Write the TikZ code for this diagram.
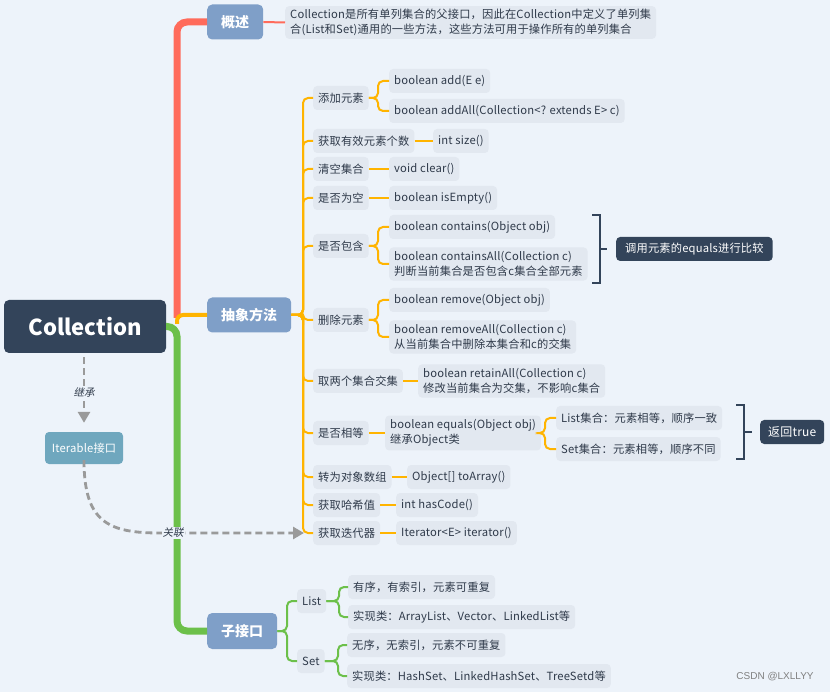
\documentclass[tikz,border=0pt]{standalone}
\usepackage{fontspec}
\setmainfont[LetterSpace=1.5]{Noto Sans CJK SC}
\newfontfamily\titlefont{Noto Sans CJK SC}
\newfontfamily\slfont[FakeSlant=0.2]{Noto Sans CJK SC}
\newfontfamily\wmfont{Liberation Sans}
\usetikzlibrary{arrows.meta}
\definecolor{bg}{HTML}{EDF3FA}
\definecolor{leaf}{HTML}{E2E8F0}
\definecolor{txt}{HTML}{2F3A4A}
\definecolor{dark}{HTML}{33445A}
\definecolor{bluen}{HTML}{7F9FC8}
\definecolor{tealn}{HTML}{6FA7BE}
\definecolor{redl}{HTML}{FF6B5B}
\definecolor{orl}{HTML}{FFB400}
\definecolor{grl}{HTML}{6CC04A}
\definecolor{dashc}{HTML}{9A9A9A}
\tikzset{
  lf/.style={fill=leaf, rounded corners=4pt, inner xsep=5pt, inner ysep=4pt, minimum height=24pt,
    anchor=west, text=txt, font=\fontsize{11.25}{15}\selectfont, align=left},
  lvone/.style={fill=bluen, rounded corners=5pt, inner xsep=14pt, inner ysep=0pt, minimum height=35pt,
    anchor=west, text=white, font=\titlefont\fontsize{14}{16}\selectfont\bfseries},
  darkbox/.style={fill=dark, rounded corners=4pt, inner xsep=9pt, inner ysep=0pt, minimum height=24pt,
    anchor=west, text=white, font=\fontsize{11.25}{15}\selectfont},
  ocon/.style={draw=orl, line width=2pt, rounded corners=5pt},
  gcon/.style={draw=grl, line width=2pt, rounded corners=5pt},
  brk/.style={draw=dark, line width=1.6pt},
  dashline/.style={draw=dashc, line width=2.8pt, dash pattern=on 7pt off 4pt,
    -{Triangle[length=11pt,width=12pt]}},
  dlabel/.style={fill=bg, inner sep=1pt, text=txt, font=\slfont\fontsize{10.5}{12}\selectfont},
}
\begin{document}
\begin{tikzpicture}[x=1pt,y=-1pt]
\fill[bg] (0,0) rectangle (830,692);
\useasboundingbox (0,0) rectangle (830,692);

% root and level-1 nodes
\node[fill=dark, rounded corners=5pt, minimum width=162pt, minimum height=53pt, text=white,
  font=\titlefont\fontsize{22}{24}\selectfont\bfseries] (root) at (85,326.5) {Collection};
\node[lvone] (gs) at (207,22) {概述};
\node[lvone] (abs) at (207,315) {抽象方法};
\node[lvone, minimum height=36pt] (zjk) at (207,631) {子接口};

% main branches
\draw[redl, line width=7pt, rounded corners=10pt] (177,318) -- (177,22) -- (gs.west);
\draw[orl, line width=4pt, rounded corners=6pt] (177,324) -- (177,315) -- (abs.west);
\draw[grl, line width=7pt, rounded corners=10pt] (root.east) -- (177,326.5) -- (177,631) -- (zjk.west);

% overview
\node[lf, inner ysep=3pt] (desc) at (285,22.5) {Collection是所有单列集合的父接口，因此在Collection中定义了单列集\\合(List和Set)通用的一些方法，这些方法可用于操作所有的单列集合};
\draw[redl, line width=2pt] (gs.east) -- (desc.west);

% level 2 under abstract methods
\node[lf] (cadd) at (313,98) {添加元素};
\node[lf] (csize) at (313,141) {获取有效元素个数};
\node[lf] (cclear) at (313,169) {清空集合};
\node[lf] (cempty) at (313,198) {是否为空};
\node[lf] (ccont) at (313,246) {是否包含};
\node[lf] (crem) at (313,320) {删除元素};
\node[lf] (cret) at (313,381) {取两个集合交集};
\node[lf] (ceq) at (313,433) {是否相等};
\node[lf] (carr) at (313,477) {转为对象数组};
\node[lf] (chash) at (313,505) {获取哈希值};
\node[lf] (cit) at (313,533) {获取迭代器};
\foreach \n in {cadd,csize,cclear,cempty,ccont,crem,cret,ceq,carr,chash,cit}
  \draw[ocon] (abs.east) -- (303,315) |- (\n.west);

% level 3
\node[lf] (add1) at (389,81) {boolean add(E e)};
\node[lf] (add2) at (389,111) {boolean addAll(Collection<? extends E> c)};
\node[lf] (size1) at (433,141) {int size()};
\node[lf] (clear1) at (389,169) {void clear()};
\node[lf] (empty1) at (389,198) {boolean isEmpty()};
\node[lf] (cont1) at (389,227) {boolean contains(Object obj)};
\node[lf] (cont2) at (389,264) {boolean containsAll(Collection c)\\判断当前集合是否包含c集合全部元素};
\node[lf] (rem1) at (389,300) {boolean remove(Object obj)};
\node[lf] (rem2) at (389,337) {boolean removeAll(Collection c)\\从当前集合中删除本集合和c的交集};
\node[lf] (ret1) at (418,381) {boolean retainAll(Collection c)\\修改当前集合为交集，不影响c集合};
\node[lf] (eq1) at (385,433) {boolean equals(Object obj)\\继承Object类};
\node[lf] (arr1) at (407,477) {Object[] toArray()};
\node[lf] (hash1) at (396,505) {int hasCode()};
\node[lf] (it1) at (396,533) {Iterator<E> iterator()};

\draw[ocon] (cadd.east) -- (378,98) |- (add1.west);
\draw[ocon] (cadd.east) -- (378,98) |- (add2.west);
\draw[ocon] (csize.east) -- (size1.west);
\draw[ocon] (cclear.east) -- (clear1.west);
\draw[ocon] (cempty.east) -- (empty1.west);
\draw[ocon] (ccont.east) -- (378,246) |- (cont1.west);
\draw[ocon] (ccont.east) -- (378,246) |- (cont2.west);
\draw[ocon] (crem.east) -- (378,320) |- (rem1.west);
\draw[ocon] (crem.east) -- (378,320) |- (rem2.west);
\draw[ocon] (cret.east) -- (ret1.west);
\draw[ocon] (ceq.east) -- (eq1.west);
\draw[ocon] (carr.east) -- (arr1.west);
\draw[ocon] (chash.east) -- (hash1.west);
\draw[ocon] (cit.east) -- (it1.west);

% level 4 under equals
\node[lf] (eqa) at (556,418) {List集合：元素相等，顺序一致};
\node[lf] (eqb) at (556,449) {Set集合：元素相等，顺序不同};
\draw[ocon] (eq1.east) -- (545,433) |- (eqa.west);
\draw[ocon] (eq1.east) -- (545,433) |- (eqb.west);

% brackets and summaries
\coordinate (b1t) at (592,215);
\coordinate (b1b) at (592,283);
\node[darkbox] (cmp) at (616,249) {调用元素的equals进行比较};
\draw[brk] (b1t) -- (600,215) -- (600,283) -- (b1b);
\draw[brk] (600,249) -- ([xshift=-9pt]cmp.west);

\coordinate (b2t) at (736,405);
\coordinate (b2b) at (736,459);
\node[darkbox, font=\fontsize{12}{15}\selectfont, inner xsep=8pt] (rt) at (760,432) {返回true};
\draw[brk] (b2t) -- (744,405) -- (744,459) -- (b2b);
\draw[brk] (744,432) -- ([xshift=-8pt]rt.west);

% sub-interfaces
\node[lf] (list) at (297,601) {List};
\node[lf] (set) at (297,661) {Set};
\draw[gcon] (zjk.east) -- (287,631) |- (list.west);
\draw[gcon] (zjk.east) -- (287,631) |- (set.west);
\node[lf] (l1) at (348,587) {有序，有索引，元素可重复};
\node[lf] (l2) at (348,617) {实现类：ArrayList、Vector、LinkedList等};
\node[lf] (s1) at (347,645) {无序，无索引，元素不可重复};
\node[lf] (s2) at (347,676) {实现类：HashSet、LinkedHashSet、TreeSetd等};
\draw[gcon] (list.east) -- (339,601) |- (l1.west);
\draw[gcon] (list.east) -- (339,601) |- (l2.west);
\draw[gcon] (set.east) -- (338,661) |- (s1.west);
\draw[gcon] (set.east) -- (338,661) |- (s2.west);

% Iterable and relations
\node[fill=tealn, rounded corners=4pt, minimum width=78pt, minimum height=32pt, text=white,
  font=\fontsize{11.25}{14}\selectfont] (iter) at (84,448) {Iterable接口};
\draw[dashline, shorten <=4pt, shorten >=9pt] (root.south -| iter.north) -- (iter.north)
  node[midway, dlabel] {继承};
\coordinate (itend) at (304,533);
\draw[dashline] ([yshift=4pt]iter.south) .. controls (84,522) and (108,533) .. (160,533) -- (itend);
\node[dlabel] (gl) at (173,533) {关联};

% watermark
\node[text=gray, font=\wmfont\fontsize{10}{12}\selectfont] (wm) at (775,677) {CSDN @LXLLYY};
\end{tikzpicture}
\end{document}
